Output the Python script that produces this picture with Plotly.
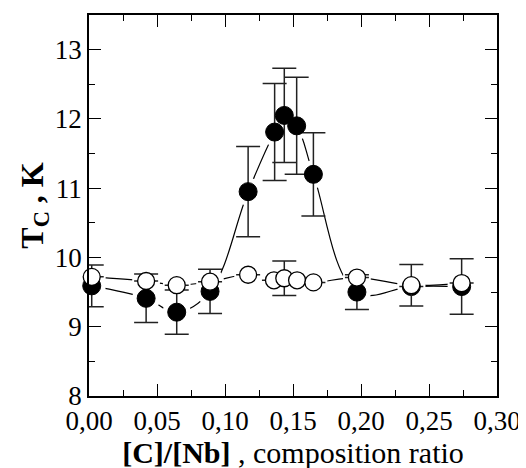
import plotly.graph_objects as go

# Filled circles (series 1)
x_filled = [0.002, 0.042, 0.0645, 0.089, 0.117, 0.1365, 0.1436, 0.1527, 0.165, 0.197, 0.237, 0.274]
y_filled = [9.59, 9.41, 9.21, 9.51, 10.95, 11.81, 12.05, 11.90, 11.20, 9.50, 9.58, 9.58]
err_filled = [0.30, 0.35, 0.32, 0.32, 0.65, 0.70, 0.68, 0.70, 0.60, 0.25, 0.0, 0.40]

# Open circles (series 2)
x_open = [0.002, 0.042, 0.0645, 0.089, 0.117, 0.136, 0.1436, 0.153, 0.165, 0.197, 0.237, 0.274]
y_open = [9.72, 9.66, 9.60, 9.65, 9.75, 9.67, 9.70, 9.67, 9.64, 9.71, 9.60, 9.63]
err_open = [0, 0, 0, 0, 0, 0, 0.25, 0, 0, 0, 0.30, 0]

x_ticks = [0, 0.05, 0.10, 0.15, 0.20, 0.25, 0.30]
y_ticks = [8, 9, 10, 11, 12, 13]

FONT = "Liberation Serif"

fig = go.Figure()

# connecting lines
for xs, ys in ((x_filled, y_filled), (x_open, y_open)):
    fig.add_trace(go.Scatter(x=xs, y=ys, mode="lines",
                             line=dict(color="black", width=1.2, shape="spline", smoothing=1.1),
                             hoverinfo="skip", showlegend=False, cliponaxis=True))

# white halos to break lines near markers
for xs, ys in ((x_filled, y_filled), (x_open, y_open)):
    fig.add_trace(go.Scatter(x=xs, y=ys, mode="markers",
                             marker=dict(size=28, color="white", line=dict(width=0)),
                             hoverinfo="skip", showlegend=False, cliponaxis=False))

# filled markers with error bars
fig.add_trace(go.Scatter(
    x=x_filled, y=y_filled, mode="markers",
    marker=dict(size=18, color="black", line=dict(color="black", width=1)),
    error_y=dict(type="data", array=err_filled, visible=True, color="#222222",
                 thickness=1.5, width=12),
    showlegend=False, cliponaxis=False))

# open markers with error bars
fig.add_trace(go.Scatter(
    x=x_open, y=y_open, mode="markers",
    marker=dict(size=17, color="white", line=dict(color="black", width=1.3)),
    error_y=dict(type="data", array=err_open, visible=True, color="#222222",
                 thickness=1.5, width=12),
    showlegend=False, cliponaxis=False))

axis_common = dict(
    showgrid=False, zeroline=False, showline=True, linecolor="black", linewidth=1.5,
    mirror="allticks", ticks="inside", ticklen=12, tickwidth=1.2, tickcolor="black",
    tickfont=dict(family=FONT, size=27, color="black"),
)

fig.update_xaxes(range=[0, 0.30], tickvals=x_ticks, tickformat=".2f",
                 minor=dict(dtick=0.025, tick0=0, ticks="inside", ticklen=6, tickwidth=1.2, tickcolor="black"),
                 title=dict(text="<b>[C]/[Nb]</b> , composition ratio",
                            font=dict(family=FONT, size=30, color="black"), standoff=0),
                 **axis_common)
fig.update_yaxes(range=[8, 13.5], tickvals=y_ticks,
                 minor=dict(dtick=0.5, tick0=8, ticks="inside", ticklen=6, tickwidth=1.2, tickcolor="black"),
                 title=dict(text="<b>T<sub>C</sub> , K</b>",
                            font=dict(family=FONT, size=32, color="black"), standoff=2),
                 **axis_common)

fig.update_layout(
    width=526, height=468,
    margin=dict(l=81, r=37, t=5, b=80),
    paper_bgcolor="white", plot_bgcolor="white",
    separators=", ",
    font=dict(family=FONT, color="black"),
)

fig.write_html("out.html")
